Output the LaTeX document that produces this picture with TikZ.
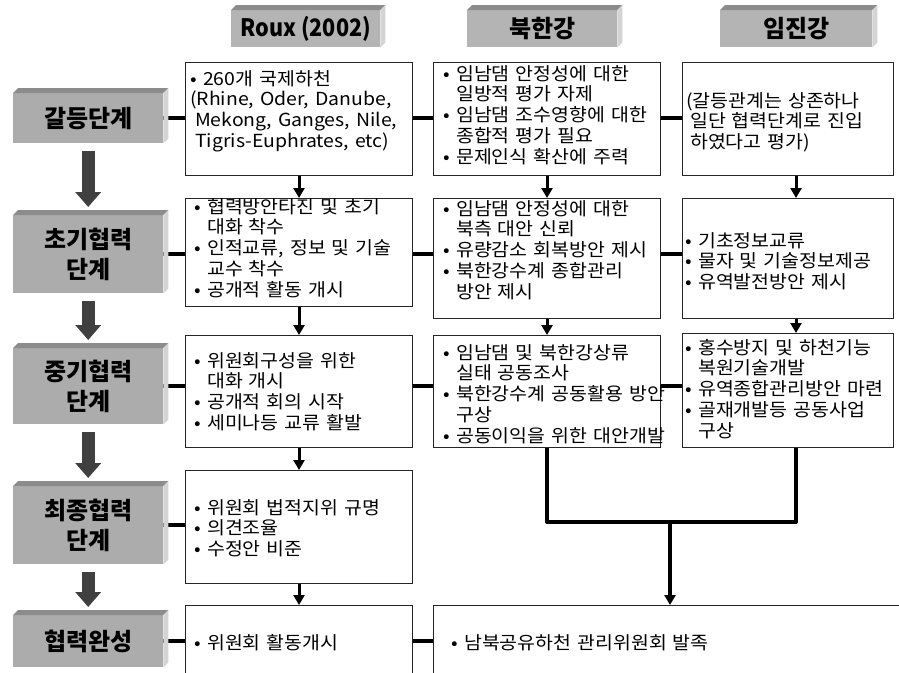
\documentclass[tikz,border=0pt]{standalone}
\usepackage{fontspec}
\setmainfont{Noto Sans CJK KR}[WordSpace=2,FakeStretch=1.08]
\newfontfamily\headfont{Noto Sans CJK KR}
\usetikzlibrary{arrows.meta}
\definecolor{facegray}{RGB}{172,172,172}
\definecolor{topgray}{RGB}{140,140,140}
\definecolor{sidegray}{RGB}{212,212,212}
\definecolor{headface}{RGB}{180,180,180}
\definecolor{arrowgray}{RGB}{64,64,64}
\newcommand\bul{\makebox[13pt][l]{•}}
\newcommand\ind{\hspace*{13pt}}
\newcommand\mybevel[1]{%
  \fill[topgray] (#1.north west) -- ++(5pt,5pt) -- ([shift={(5pt,5pt)}]#1.north east) -- (#1.north east) -- cycle;
  \fill[sidegray] (#1.north east) -- ++(5pt,5pt) -- ([shift={(5pt,5pt)}]#1.south east) -- (#1.south east) -- cycle;}
\tikzset{
  headbox/.style={fill=headface, inner sep=0pt, anchor=north west, minimum height=37pt,
    font=\headfont\fontsize{24}{28}\selectfont\bfseries},
  stagebox/.style={fill=facegray, inner sep=0pt, anchor=north west, minimum width=150pt,
    align=center, font=\headfont\fontsize{24}{30}\selectfont\bfseries},
  cbox/.style={draw=black!85, line width=1pt, fill=white, inner sep=0pt, anchor=north west},
  ctext/.style={anchor=base west, inner sep=0pt, text width=240pt, align=left,
    font=\fontsize{18}{20.8}\selectfont},
  conn/.style={line width=4pt},
  carrow/.style={line width=3pt, -{Triangle[width=11pt,length=10pt]}},
  sarrow/.style={draw=arrowgray, line width=13pt, -{Triangle[width=25pt,length=15pt]},
    shorten <=8pt, shorten >=8pt},
}
\begin{document}
\begin{tikzpicture}[x=1pt,y=-1pt]
\useasboundingbox (0,0) rectangle (899,672);
\fill[white] (0,0) rectangle (899,672);

% headers
\node[headbox, minimum width=149pt] (h1) at (231,10) {\scalebox{0.9}[1]{Roux (2002)}};
\node[headbox, minimum width=150pt] (h2) at (467,10) {북한강};
\node[headbox, minimum width=152pt] (h3) at (720,10) {임진강};
\mybevel{h1}\mybevel{h2}\mybevel{h3}

% stage boxes
\node[stagebox, minimum height=50pt] (s1) at (13,93) {갈등단계};
\node[stagebox, minimum height=78pt] (s2) at (13,215) {초기협력\\단계};
\node[stagebox, minimum height=76pt] (s3) at (13,348) {중기협력\\단계};
\node[stagebox, minimum height=78pt] (s4) at (13,486) {최종협력\\단계};
\node[stagebox, minimum height=52pt] (s5) at (13,615) {협력완성};

% content boxes
\node[cbox, minimum width=227pt, minimum height=113pt] (b11) at (185,62) {};
\node[cbox, minimum width=227pt, minimum height=113pt] (b12) at (433,62) {};
\node[cbox, minimum width=211pt, minimum height=113pt] (b13) at (682,62) {};
\node[cbox, minimum width=227pt, minimum height=108pt] (b21) at (185,198) {};
\node[cbox, minimum width=227pt, minimum height=120pt] (b22) at (433,198) {};
\node[cbox, minimum width=211pt, minimum height=120pt] (b23) at (682,198) {};
\node[cbox, minimum width=227pt, minimum height=112pt] (b31) at (185,335) {};
\node[cbox, minimum width=227pt, minimum height=112pt] (b32) at (433,335) {};
\node[cbox, minimum width=211pt, minimum height=114pt] (b33) at (682,333) {};
\node[cbox, minimum width=227pt, minimum height=113pt] (b41) at (185,470) {};
\node[cbox, minimum width=227pt, minimum height=90pt] (b51) at (185,605) {};
\node[cbox, minimum width=500pt, minimum height=90pt] (b52) at (433,605) {};

% texts
\node[ctext] (t11) at (190,85) {\bul 260개 국제하천\\(Rhine, Oder, Danube,\\\hspace*{5pt}Mekong, Ganges, Nile,\\\hspace*{5pt}Tigris-Euphrates, etc)};
\node[ctext] (t12) at (443,80) {\bul 임남댐 안정성에 대한\\\ind 일방적 평가 자제\\\bul 임남댐 조수영향에 대한\\\ind 종합적 평가 필요\\\bul 문제인식 확산에 주력};
\node[ctext] (t13) at (686,107) {(갈등관계는 상존하나\\\hspace*{4pt}일단 협력단계로 진입\\\hspace*{4pt}하였다고 평가)};
\node[ctext] (t21) at (194,213) {\bul 협력방안타진 및 초기\\\ind 대화 착수\\\bul 인적교류, 정보 및 기술\\\ind 교수 착수\\\bul 공개적 활동 개시};
\node[ctext] (t22) at (443,215) {\bul 임남댐 안정성에 대한\\\ind 북측 대안 신뢰\\\bul 유량감소 회복방안 제시\\\bul 북한강수계 종합관리\\\ind 방안 제시};
\node[ctext] (t23) at (685,247) {\bul 기초정보교류\\\bul 물자 및 기술정보제공\\\bul 유역발전방안 제시};
\node[ctext] (t31) at (194,367) {\bul 위원회구성을 위한\\\ind 대화 개시\\\bul 공개적 회의 시작\\\bul 세미나등 교류 활발};
\node[ctext] (t32) at (443,359) {\bul 임남댐 및 북한강상류\\\ind 실태 공동조사\\\bul 북한강수계 공동활용 방안\\\ind 구상\\\bul 공동이익을 위한 대안개발};
\node[ctext] (t33) at (685,354) {\bul 홍수방지 및 하천기능\\\ind 복원기술개발\\\bul 유역종합관리방안 마련\\\bul 골재개발등 공동사업\\\ind 구상};
\node[ctext] (t41) at (194,514) {\bul 위원회 법적지위 규명\\\bul 의견조율\\\bul 수정안 비준};
\node[ctext] (t51) at (194,649) {\bul 위원회 활동개시};
\node[ctext, text width=420pt] (t52) at (451,649) {\bul 남북공유하천 관리위원회 발족};

% horizontal connectors
\draw[conn] (s1.east) -- (s1.east -| b11.west);
\draw[conn] (s1.east -| b11.east) -- (s1.east -| b12.west);
\draw[conn] (s1.east -| b12.east) -- (s1.east -| b13.west);
\draw[conn] (s2.east) -- (s2.east -| b21.west);
\draw[conn] (s2.east -| b21.east) -- (s2.east -| b22.west);
\draw[conn] (s2.east -| b22.east) -- (s2.east -| b23.west);
\draw[conn] (s3.east) -- (s3.east -| b31.west);
\draw[conn] (s3.east -| b31.east) -- (s3.east -| b32.west);
\draw[conn] (s3.east -| b32.east) -- (s3.east -| b33.west);
\draw[conn] (s4.east) -- (s4.east -| b41.west);
\draw[conn] (s5.east) -- (s5.east -| b51.west);
\draw[conn] (s5.east -| b51.east) -- (s5.east -| b52.west);

% stage bevels (over connector ends)
\mybevel{s1}\mybevel{s2}\mybevel{s3}\mybevel{s4}\mybevel{s5}

% stage arrows
\draw[sarrow] (s1.south) -- (s2.north);
\draw[sarrow] (s2.south) -- (s3.north);
\draw[sarrow] (s3.south) -- (s4.north);
\draw[sarrow] (s4.south) -- (s5.north);

% content arrows
\coordinate (c3) at (796,0);
\draw[carrow] (b11.south) -- (b21.north);
\draw[carrow] (b21.south) -- (b31.north);
\draw[carrow] (b31.south) -- (b41.north);
\draw[carrow] (b41.south) -- (b51.north);
\draw[carrow] (b12.south) -- (b22.north);
\draw[carrow] (b22.south) -- (b32.north);
\draw[carrow] (b13.south -| c3) -- (b23.north -| c3);
\draw[carrow] (b23.south -| c3) -- (b33.north -| c3);

% merge
\coordinate (j) at (670,522);
\coordinate (jl) at (b32.south |- j);
\coordinate (jr) at (c3 |- j);
\draw[conn, line join=round] (b32.south) -- (jl) -- (jr) -- (b33.south -| c3);
\draw[carrow, line width=3.5pt] (j) -- (j |- b52.north);
\end{tikzpicture}
\end{document}
